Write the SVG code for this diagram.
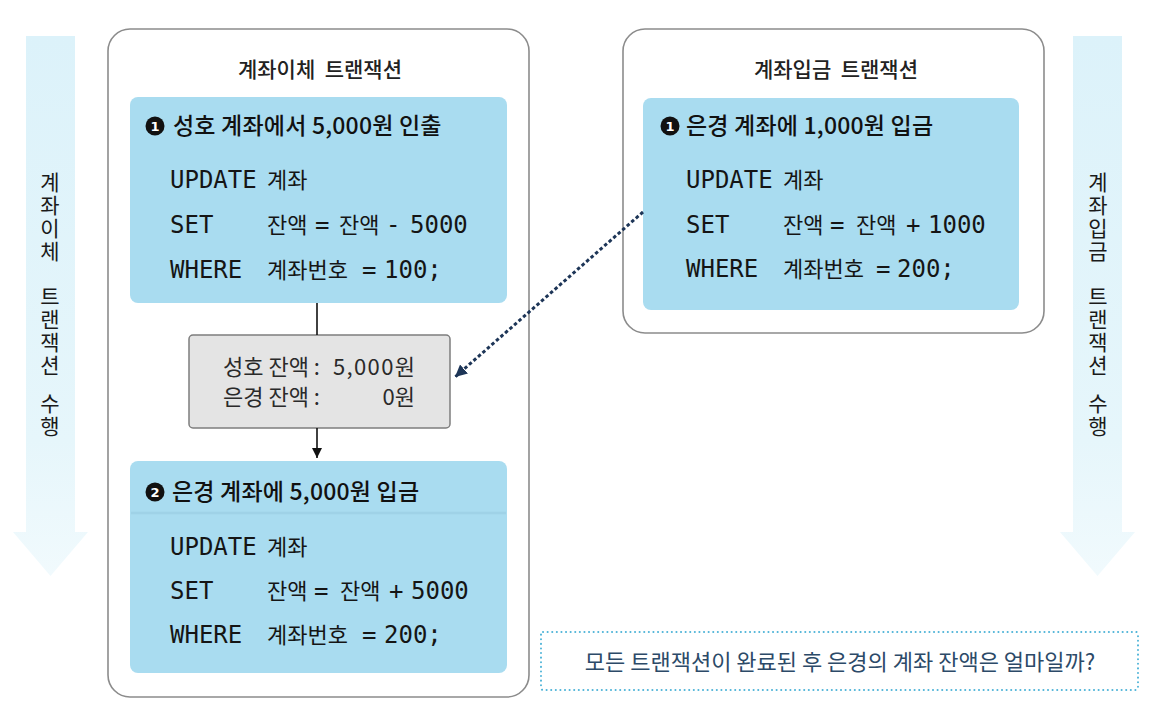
<svg xmlns="http://www.w3.org/2000/svg" width="1166" height="708" viewBox="0 0 1166 708">
<style>
.kr{font-family:"Noto Sans CJK KR","Noto Sans",sans-serif}
.title{font-family:"Noto Sans CJK KR",sans-serif;font-size:21px;font-weight:500;fill:#222;text-anchor:middle}
.head{font-family:"Noto Sans CJK KR",sans-serif;font-size:23px;font-weight:500;fill:#111;letter-spacing:0.2px}
.code{font-family:"DejaVu Sans Mono","Noto Sans CJK KR",monospace;font-size:24px;fill:#151515}
.h{font-family:"Noto Sans CJK KR",sans-serif;font-size:22px}
.side{font-family:"Noto Sans CJK KR",sans-serif;font-size:21px;fill:#1a1a1a;writing-mode:vertical-rl;text-orientation:upright;letter-spacing:2px}
.outer{fill:#fff;stroke:#8c8c8c;stroke-width:1.6}
.blue{fill:#a9dcf0}
.num{fill:#111}
.numt{font-family:"DejaVu Sans",sans-serif;font-size:13px;font-weight:bold;fill:#fff;text-anchor:middle}
.bal{font-family:"Noto Sans CJK KR",sans-serif;font-size:22px;fill:#2a2a2a}
</style>
<defs>
<linearGradient id="sideGrad" x1="0" y1="0" x2="0" y2="1">
<stop offset="0" stop-color="#dcf2fa"/>
<stop offset="0.75" stop-color="#e6f6fb"/>
<stop offset="1" stop-color="#f1fafd"/>
</linearGradient>
<marker id="solidHead" markerUnits="userSpaceOnUse" markerWidth="12" markerHeight="12" refX="10" refY="5" orient="auto">
<path d="M0,0 L10,5 L0,10 Z" fill="#111"/>
</marker>
<marker id="navyHead" markerUnits="userSpaceOnUse" markerWidth="14" markerHeight="14" refX="12" refY="6" orient="auto">
<path d="M0,0 L12,6 L0,12 Z" fill="#1d3557"/>
</marker>
</defs>
<rect width="1166" height="708" fill="#fff"/>

<g id="side-left">
<path d="M26,36 H75 V532 H88 L50.5,576 L13,532 H26 Z" fill="url(#sideGrad)"/>
<text class="side" x="50" y="172">계좌이체</text>
<text class="side" x="50" y="286">트랜잭션</text>
<text class="side" x="50" y="393">수행</text>
</g>

<g id="side-right">
<path d="M1073,36 H1122 V532 H1135 L1097.5,576 L1060,532 H1073 Z" fill="url(#sideGrad)"/>
<text class="side" x="1098" y="172">계좌입금</text>
<text class="side" x="1098" y="286">트랜잭션</text>
<text class="side" x="1098" y="393">수행</text>
</g>

<g id="tx-transfer">
<rect class="outer" x="108" y="29" width="421" height="668" rx="22"/>
<text class="title" x="320" y="77" xml:space="preserve">계좌이체  트랜잭션</text>
</g>

<g id="tx-deposit">
<rect class="outer" x="623" y="29" width="421" height="304" rx="22"/>
<text class="title" x="836" y="77" xml:space="preserve">계좌입금  트랜잭션</text>
</g>

<g id="step1-withdraw">
<rect class="blue" x="130" y="97" width="377" height="206" rx="8"/>
<circle class="num" cx="155" cy="126" r="9.5"/>
<text class="numt" x="155" y="130.5">1</text>
<text class="head" x="173" y="134">성호 계좌에서 5,000원 인출</text>
<text class="code" y="188"><tspan x="170">UPDATE</tspan><tspan class="h" x="267">계좌</tspan></text>
<text class="code" y="233"><tspan x="170">SET</tspan><tspan class="h" x="267">잔액</tspan><tspan x="315">=</tspan><tspan class="h" x="339">잔액</tspan><tspan x="386">-</tspan><tspan x="410">5000</tspan></text>
<text class="code" y="278"><tspan x="170">WHERE</tspan><tspan class="h" x="267">계좌번호</tspan><tspan x="362">=</tspan><tspan x="384">100;</tspan></text>
</g>

<g id="balance">
<rect x="189" y="335" width="261" height="93" rx="4" fill="#e4e4e4" stroke="#7d7d7d" stroke-width="1.5"/>
<text class="bal" x="223" y="375">성호 잔액 :</text>
<text class="bal" x="333" y="375" textLength="82" lengthAdjust="spacing">5,000원</text>
<text class="bal" x="223" y="405">은경 잔액 :</text>
<text class="bal" x="415" y="405" text-anchor="end">0원</text>
</g>

<g id="step2-deposit">
<rect class="blue" x="130" y="461" width="377" height="212" rx="8"/>
<line x1="131" y1="513" x2="506" y2="513" stroke="#97cbe0" stroke-width="2.5" opacity="0.55"/>
<circle class="num" cx="155" cy="492" r="9.5"/>
<text class="numt" x="155" y="496.5">2</text>
<text class="head" x="172" y="500">은경 계좌에 5,000원 입금</text>
<text class="code" y="555"><tspan x="170">UPDATE</tspan><tspan class="h" x="267">계좌</tspan></text>
<text class="code" y="599"><tspan x="170">SET</tspan><tspan class="h" x="267">잔액</tspan><tspan x="314">=</tspan><tspan class="h" x="340">잔액</tspan><tspan x="389">+</tspan><tspan x="411">5000</tspan></text>
<text class="code" y="643"><tspan x="170">WHERE</tspan><tspan class="h" x="267">계좌번호</tspan><tspan x="362">=</tspan><tspan x="384">200;</tspan></text>
</g>

<g id="deposit-1000">
<rect class="blue" x="643" y="98" width="376" height="212" rx="8"/>
<circle class="num" cx="670" cy="126" r="9.5"/>
<text class="numt" x="670" y="130.5">1</text>
<text class="head" x="686" y="134">은경 계좌에 1,000원 입금</text>
<text class="code" y="188"><tspan x="686">UPDATE</tspan><tspan class="h" x="783">계좌</tspan></text>
<text class="code" y="233"><tspan x="686">SET</tspan><tspan class="h" x="783">잔액</tspan><tspan x="830">=</tspan><tspan class="h" x="856">잔액</tspan><tspan x="906">+</tspan><tspan x="928">1000</tspan></text>
<text class="code" y="277"><tspan x="686">WHERE</tspan><tspan class="h" x="783">계좌번호</tspan><tspan x="876">=</tspan><tspan x="897">200;</tspan></text>
</g>

<g id="question">
<rect x="541" y="632" width="597" height="58" rx="2" fill="none" stroke="#4fb4d8" stroke-width="2" stroke-dasharray="0.1 4.5" stroke-linecap="round"/>
<text class="kr" x="840" y="670" font-size="22" fill="#2c4a68" text-anchor="middle">모든 트랜잭션이 완료된 후 은경의 계좌 잔액은 얼마일까?</text>
</g>

<g id="connectors">
<line x1="317" y1="303" x2="317" y2="335" stroke="#111" stroke-width="1.6"/>
<line x1="317" y1="428" x2="317" y2="458" stroke="#111" stroke-width="1.6" marker-end="url(#solidHead)"/>
<line x1="643" y1="212" x2="455" y2="377" stroke="#1d3557" stroke-width="3" stroke-dasharray="3.5 2.5" marker-end="url(#navyHead)"/>
</g>
</svg>
